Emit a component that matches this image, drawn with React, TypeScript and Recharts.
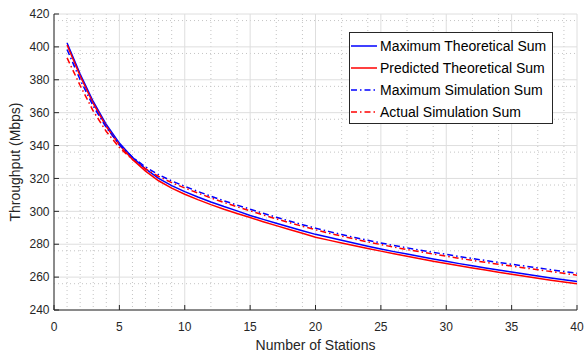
import React from 'react';
import {
  LineChart,
  Line,
  XAxis,
  YAxis,
  CartesianGrid,
  Legend,
} from 'recharts';

// x values (number of stations)
const stations = [
  1, 2, 3, 4, 5, 6, 7, 8, 9, 10, 11, 12, 13, 14, 15, 16, 17, 18, 19, 20,
  21, 22, 23, 24, 25, 26, 27, 28, 29, 30, 31, 32, 33, 34, 35, 36, 37, 38, 39, 40,
];

const maxTheoretical = [
  402.4, 383.5, 366.8, 352.8, 341.5, 332.8, 325.8, 320, 315.6, 312,
  308.7, 305.7, 302.9, 300.3, 297.5, 295.1, 292.8, 290.5, 288.2, 286,
  284.2, 282.4, 280.6, 278.8, 277.1, 275.5, 274, 272.5, 271, 269.6,
  268.2, 266.9, 265.6, 264.3, 263.1, 261.9, 260.7, 259.5, 258.4, 257.3,
];

const predTheoretical = [
  401.2, 382.3, 365.6, 351.6, 340.3, 331.6, 324.5, 318.6, 314.1, 310.4,
  307.1, 304.1, 301.3, 298.7, 296.2, 293.7, 291.3, 289, 286.7, 284.3,
  282.5, 280.8, 279.1, 277.4, 275.8, 274.2, 272.7, 271.2, 269.7, 268.3,
  266.9, 265.6, 264.3, 263, 261.7, 260.5, 259.3, 258.1, 257, 255.9,
];

const maxSimulation = [
  398.4, 380, 364, 351, 340.5, 333, 327, 322.3, 318.5, 315.2,
  312.1, 309.2, 306.4, 303.8, 301.3, 298.8, 296.4, 294.1, 291.9, 289.8,
  287.8, 285.9, 284.1, 282.4, 280.8, 279.2, 277.8, 276.4, 275.1, 273.8,
  272.5, 271.3, 270.1, 268.9, 267.8, 266.7, 265.6, 264.5, 263.4, 262.3,
];

const actualSimulation = [
  393.3, 376.5, 361, 348.5, 338.8, 331.5, 325.8, 321.2, 317.5, 314.2,
  311.1, 308.2, 305.4, 302.8, 300.3, 297.8, 295.4, 293.1, 290.9, 288.8,
  286.8, 284.9, 283.1, 281.4, 279.8, 278.2, 276.8, 275.4, 274, 272.7,
  271.4, 270.2, 269, 267.8, 266.7, 265.6, 264.5, 263.4, 262.3, 261.2,
];

const xTicks = [0, 5, 10, 15, 20, 25, 30, 35, 40];
const yTicks = [240, 260, 280, 300, 320, 340, 360, 380, 400, 420];
const xMinor = [1, 2, 3, 4, 6, 7, 8, 9, 11, 12, 13, 14, 16, 17, 18, 19, 21, 22, 23, 24, 26, 27, 28, 29, 31, 32, 33, 34, 36, 37, 38, 39];
const yMinor = [244, 248, 252, 256, 264, 268, 272, 276, 284, 288, 292, 296, 304, 308, 312, 316, 324, 328, 332, 336, 344, 348, 352, 356, 364, 368, 372, 376, 384, 388, 392, 396, 404, 408, 412, 416];

const series = [
  { key: 'mt', name: 'Maximum Theoretical Sum', color: '#0000ff', dash: undefined },
  { key: 'pt', name: 'Predicted Theoretical Sum', color: '#ff0000', dash: undefined },
  { key: 'ms', name: 'Maximum Simulation Sum', color: '#0000ff', dash: '6 3 1.5 3' },
  { key: 'as', name: 'Actual Simulation Sum', color: '#ff0000', dash: '6 3 1.5 3' },
];

const data = stations.map((x, i) => ({
  x,
  mt: maxTheoretical[i],
  pt: predTheoretical[i],
  ms: maxSimulation[i],
  as: actualSimulation[i],
}));

const FONT = "'Liberation Sans', Arial, Helvetica, sans-serif";
const AXIS = '#262626';

const renderLegend = () => (
  <div
    style={{
      width: 204,
      height: 92,
      boxSizing: 'border-box',
      border: `1px solid ${AXIS}`,
      background: '#fff',
      paddingTop: 2,
      fontFamily: FONT,
      fontSize: 14,
      color: '#000',
    }}
  >
    {series.map((s) => (
      <div key={s.key} style={{ display: 'flex', alignItems: 'center', height: 22 }}>
        <svg width={28} height={10} style={{ display: 'block' }}>
          <line x1={1} y1={5} x2={27} y2={5} stroke={s.color} strokeWidth={1.5} strokeDasharray={s.dash} />
        </svg>
        <span style={{ marginLeft: 2, whiteSpace: 'nowrap' }}>{s.name}</span>
      </div>
    ))}
  </div>
);

const YTitle = (props: any) => {
  const vb = props.viewBox;
  const cx = vb.x + 15;
  const cy = vb.y + vb.height / 2;
  return (
    <text x={cx} y={cy} transform={`rotate(-90, ${cx}, ${cy})`} textAnchor="middle" dominantBaseline="central"
      fontFamily={FONT} fontSize={14} fill={AXIS}>
      Throughput (Mbps)
    </text>
  );
};

const XTitle = (props: any) => {
  const vb = props.viewBox;
  return (
    <text x={vb.x + vb.width / 2} y={vb.y + 40} textAnchor="middle" fontFamily={FONT} fontSize={14} fill={AXIS}>
      Number of Stations
    </text>
  );
};

export default function App() {
  return (
    <div style={{ position: 'absolute', left: 0, top: 0, width: 585, height: 354, background: '#fff' }}>
      <LineChart width={585} height={354} data={data} margin={{ top: 14, right: 8, left: 0, bottom: 0 }}>
        <CartesianGrid
          horizontalValues={yMinor}
          verticalValues={xMinor}
          stroke="#c4c4c4"
          strokeDasharray="1 3"
        />
        <CartesianGrid horizontalValues={yTicks} verticalValues={xTicks} stroke="#dedede" />
        <XAxis
          dataKey="x"
          type="number"
          domain={[0, 40]}
          ticks={xTicks}
          height={44}
          stroke={AXIS}
          tickSize={-5}
          tickMargin={17}
          tick={{ fill: AXIS, fontSize: 12, fontFamily: FONT }}
          allowDataOverflow
          label={{ content: XTitle }}
        />
        <XAxis
          xAxisId="top"
          orientation="top"
          type="number"
          domain={[0, 40]}
          ticks={xTicks}
          height={0}
          stroke={AXIS}
          tickSize={-5}
          tickFormatter={() => ''}
          allowDataOverflow
        />
        <YAxis
          type="number"
          domain={[240, 420]}
          ticks={yTicks}
          width={54}
          stroke={AXIS}
          tickSize={-5}
          tickMargin={9.5}
          tick={{ fill: AXIS, fontSize: 12, fontFamily: FONT }}
          allowDataOverflow
          label={{ content: YTitle }}
        />
        <YAxis
          yAxisId="right"
          orientation="right"
          type="number"
          domain={[240, 420]}
          ticks={yTicks}
          width={0}
          stroke={AXIS}
          tickSize={-5}
          tickFormatter={() => ''}
          allowDataOverflow
        />
        <Legend
          layout="vertical"
          align="center"
          verticalAlign="middle"
          content={renderLegend}
          wrapperStyle={{ top: 32, left: 349, width: 204, height: 92 }}
        />
        {series.map((s) => (
          <Line
            key={s.key}
            type="linear"
            dataKey={s.key}
            name={s.name}
            stroke={s.color}
            strokeWidth={1.5}
            strokeDasharray={s.dash}
            dot={false}
            activeDot={false}
            isAnimationActive={false}
          />
        ))}
      </LineChart>
    </div>
  );
}
